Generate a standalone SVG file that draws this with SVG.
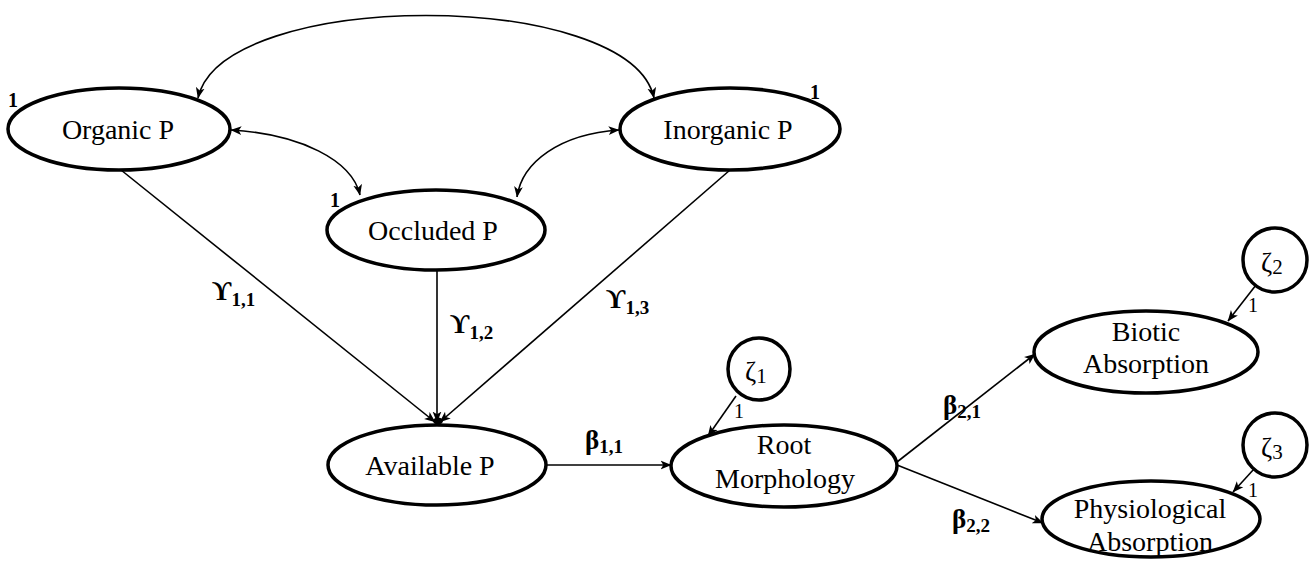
<svg xmlns="http://www.w3.org/2000/svg" width="1310" height="562" viewBox="0 0 1310 562">
  <style>
    .node ellipse, .node circle { fill: #fff; stroke: #000; stroke-width: 3.5; }
    .lbl { font-family: "Liberation Serif", "Times New Roman", serif; font-size: 28px; fill: #000; text-anchor: middle; }
    .one { font-family: "Liberation Serif", "Times New Roman", serif; font-size: 20px; fill: #000; }
    .one.b { font-weight: bold; }
    .coef { font-family: "Liberation Serif", "Times New Roman", serif; font-size: 27px; font-weight: bold; fill: #000; }
    .coef tspan { font-size: 19px; }
    .zeta { font-family: "Liberation Serif", "Times New Roman", serif; font-size: 27px; fill: #000; }
    .zeta tspan { font-size: 21px; }
    .edge { fill: none; stroke: #000; stroke-width: 1.6; }
  </style>
  <defs>
    <marker id="arr" viewBox="0 0 10 10" refX="9.5" refY="5" markerWidth="11" markerHeight="11" orient="auto-start-reverse" markerUnits="userSpaceOnUse">
      <path d="M0,1 L10,5 L0,9 L2.5,5 Z" fill="#000"/>
    </marker>
  </defs>

  <!-- connectors -->
  <g id="connectors">
    <!-- covariances -->
    <path class="edge" d="M198,98 C222,-12 630,-12 654,98" marker-start="url(#arr)" marker-end="url(#arr)"/>
    <path class="edge" d="M231,130 C300,134 352,160 360,195" marker-start="url(#arr)" marker-end="url(#arr)"/>
    <path class="edge" d="M619,130 C560,134 522,162 517,197" marker-start="url(#arr)" marker-end="url(#arr)"/>
    <!-- paths into Available P -->
    <line class="edge" x1="121" y1="170" x2="435" y2="422" marker-end="url(#arr)"/>
    <line class="edge" x1="437" y1="270" x2="437" y2="422" marker-end="url(#arr)"/>
    <line class="edge" x1="730" y1="170" x2="440" y2="422" marker-end="url(#arr)"/>
    <ellipse cx="438" cy="421" rx="5" ry="3.5" fill="#000"/>
    <!-- structural paths -->
    <line class="edge" x1="545" y1="465" x2="671" y2="465" marker-end="url(#arr)"/>
    <line class="edge" x1="897" y1="462" x2="1035" y2="354" marker-end="url(#arr)"/>
    <line class="edge" x1="897" y1="465" x2="1043" y2="523" marker-end="url(#arr)"/>
    <!-- disturbances -->
    <line class="edge" x1="736" y1="396" x2="708" y2="436" marker-end="url(#arr)"/>
    <line class="edge" x1="1256" y1="285" x2="1228" y2="321" marker-end="url(#arr)"/>
    <line class="edge" x1="1254" y1="469" x2="1233" y2="492" marker-end="url(#arr)"/>

    <text class="coef" x="212" y="300">ϒ<tspan dy="6">1,1</tspan></text>
    <text class="coef" x="450" y="333">ϒ<tspan dy="6">1,2</tspan></text>
    <text class="coef" x="606" y="308">ϒ<tspan dy="6">1,3</tspan></text>
    <text class="coef" x="585" y="449">β<tspan dy="4">1,1</tspan></text>
    <text class="coef" x="943" y="414">β<tspan dy="4">2,1</tspan></text>
    <text class="coef" x="952" y="528">β<tspan dy="4">2,2</tspan></text>

    <text class="one" x="734" y="418">1</text>
    <text class="one" x="1248" y="312">1</text>
    <text class="one" x="1248" y="497">1</text>
  </g>

  <g id="organic" class="node">
    <ellipse cx="119" cy="129" rx="111" ry="41"/>
    <text class="lbl" x="118" y="139">Organic P</text>
    <text class="one b" x="8" y="107">1</text>
  </g>
  <g id="inorganic" class="node">
    <ellipse cx="730" cy="129" rx="110" ry="41"/>
    <text class="lbl" x="728" y="139">Inorganic P</text>
    <text class="one b" x="810" y="99">1</text>
  </g>
  <g id="occluded" class="node">
    <ellipse cx="436" cy="230" rx="109" ry="40"/>
    <text class="lbl" x="433" y="240">Occluded P</text>
    <text class="one b" x="330" y="207">1</text>
  </g>
  <g id="available" class="node">
    <ellipse cx="437" cy="465" rx="109" ry="40"/>
    <text class="lbl" x="430" y="475">Available P</text>
  </g>
  <g id="root" class="node">
    <ellipse cx="784" cy="466" rx="113" ry="41"/>
    <text class="lbl" x="784" y="454">Root</text>
    <text class="lbl" x="785" y="488">Morphology</text>
  </g>
  <g id="biotic" class="node">
    <ellipse cx="1146" cy="352" rx="112" ry="41"/>
    <text class="lbl" x="1146" y="341">Biotic</text>
    <text class="lbl" x="1146" y="373">Absorption</text>
  </g>
  <g id="physio" class="node">
    <ellipse cx="1151" cy="519" rx="109" ry="38"/>
    <text class="lbl" x="1150" y="518">Physiological</text>
    <text class="lbl" x="1150" y="551">Absorption</text>
  </g>
  <g id="zeta1" class="node">
    <circle cx="759" cy="369" r="31"/>
    <text class="zeta" x="745" y="381">ζ<tspan dy="2">1</tspan></text>
  </g>
  <g id="zeta2" class="node">
    <circle cx="1275" cy="260" r="32"/>
    <text class="zeta" x="1261" y="272">ζ<tspan dy="2">2</tspan></text>
  </g>
  <g id="zeta3" class="node">
    <circle cx="1275" cy="445" r="32"/>
    <text class="zeta" x="1261" y="457">ζ<tspan dy="2">3</tspan></text>
  </g>
</svg>
